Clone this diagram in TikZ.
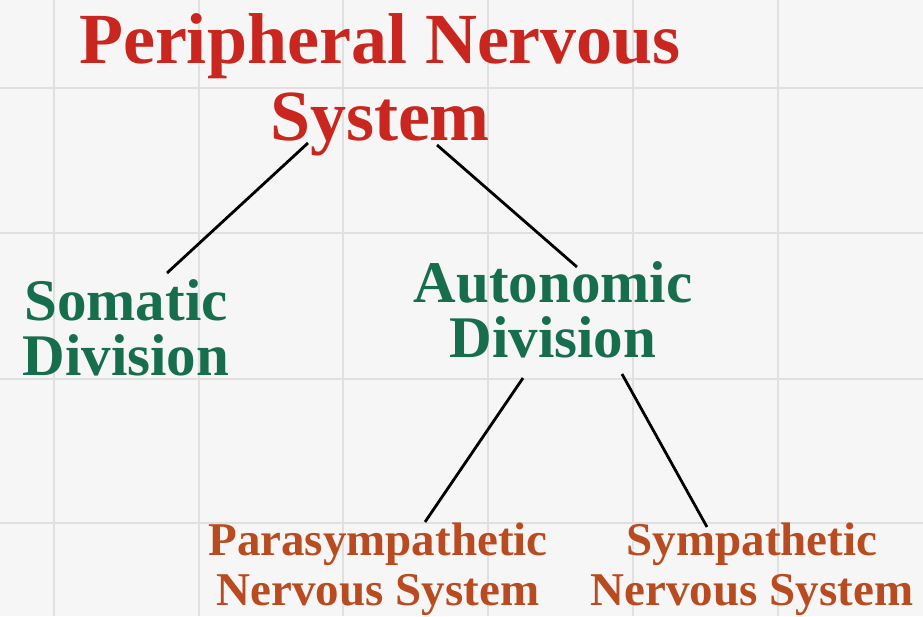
\documentclass[tikz,border=0pt]{standalone}
\usepackage{fontspec}
\setmainfont{Liberation Serif}
\definecolor{pnsred}{RGB}{200,38,30}
\definecolor{divgreen}{RGB}{22,110,76}
\definecolor{sysbrown}{RGB}{184,76,32}
\definecolor{paper}{RGB}{247,246,246}
\definecolor{gridgray}{RGB}{224,224,224}

\begin{document}
\begin{tikzpicture}[x=1pt,y=-1pt,
  title/.style={font=\fontsize{72}{77}\selectfont\bfseries,text=pnsred,align=center,anchor=base,inner sep=0pt},
  division/.style={font=\fontsize{59}{55}\selectfont\bfseries,text=divgreen,align=center,anchor=base,inner sep=0pt},
  nerves/.style={font=\fontsize{47}{50}\selectfont\bfseries,text=sysbrown,align=center,anchor=base,inner sep=0pt},
  link/.style={line width=2.8pt}]
\useasboundingbox (0,0) rectangle (923,616);
\fill[paper] (0,0) rectangle (923,616);
\foreach \x in {54,199,343,488,633,778}
  \draw[gridgray,line width=2.5pt] (\x,0) -- (\x,616);
\foreach \y in {88,233,379,523}
  \draw[gridgray,line width=2.5pt] (0,\y) -- (923,\y);

\node[title] (pns) at (380,140) {Peripheral Nervous\\System};
\node[division] (som) at (126,375) {Somatic\\Division};
\node[division] (aut) at (553,357) {Autonomic\\Division};
\node[nerves] (para) at (378,605) {Parasympathetic\\Nervous System};
\node[nerves] (symp) at (752,605) {Sympathetic\\Nervous System};

\draw[link] ([shift={(-72,3)}]pns.base) -- ([shift={(41,-102)}]som.base);
\draw[link] ([shift={(57,5)}]pns.base) -- ([shift={(24,-90)}]aut.base);
\draw[link] ([shift={(-30,21)}]aut.base) -- ([shift={(47,-83)}]para.base);
\draw[link] ([shift={(69,17)}]aut.base) -- ([shift={(-45,-78)}]symp.base);
\end{tikzpicture}
\end{document}
